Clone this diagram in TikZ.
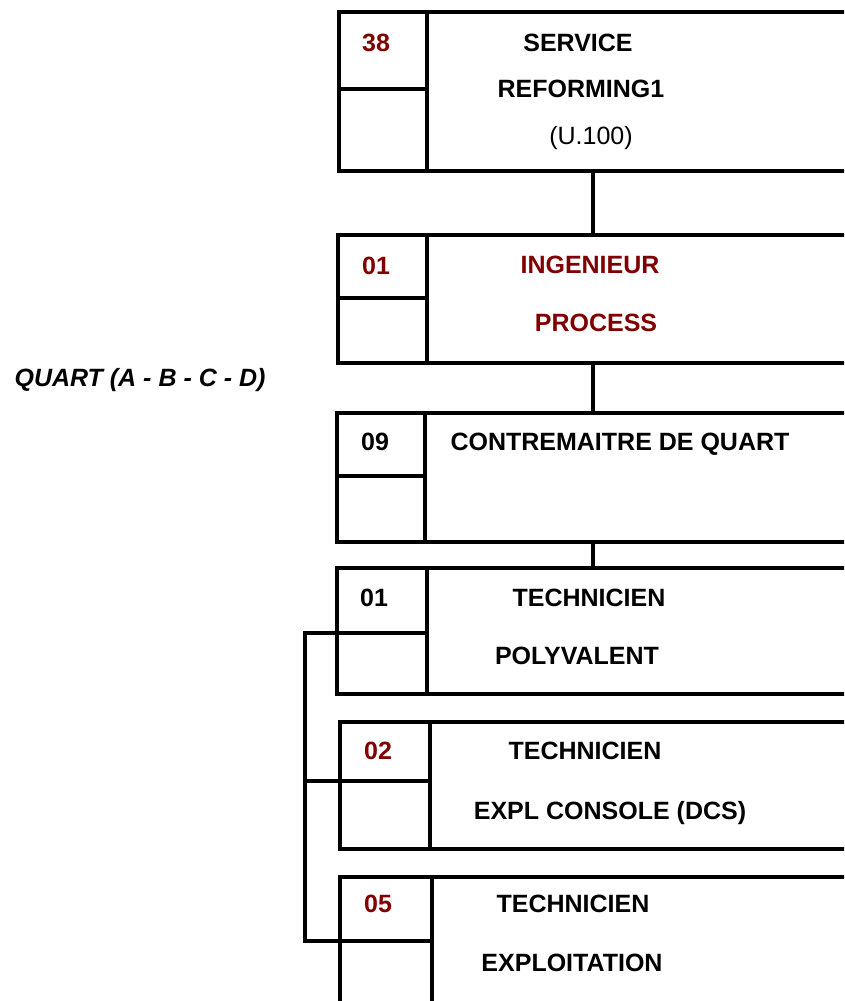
\documentclass[tikz,border=0pt]{standalone}
\usepackage{fontspec}
\setmainfont{Liberation Sans}
\usepackage{tikz}
\usetikzlibrary{positioning}

\definecolor{darkred}{RGB}{128,0,0}

\tikzset{
  cell/.style={draw, line width=4pt, rectangle, inner sep=0pt, outer sep=0pt,
    anchor=north west, minimum width=88pt},
  title/.style={cell, minimum width=460pt},
  lbl/.style={inner sep=0pt, text height=18pt, text depth=0pt,
    font=\fontsize{25}{28}\selectfont\bfseries},
  link/.style={line width=4pt}
}

\begin{document}
\begin{tikzpicture}[x=1pt,y=-1pt]
  \useasboundingbox (0,0) rectangle (844,1001);
  \clip (0,0) rectangle (844,1001);

  % service
  \node[cell, minimum height=77pt] (n1) at (339,12) {};
  \node[cell, minimum height=82pt, below=0pt of n1.south west, anchor=north west] (m1) {};
  \node[title, minimum height=159pt] (t1) at (n1.north east) {};
  \node[lbl, darkred] (c1) at (376,42) {38};
  \node[lbl] (s1) at (578,42) {SERVICE};
  \node[lbl] (s2) at (581,88) {REFORMING1};
  \node[lbl, font=\fontsize{25}{28}\selectfont] (s3) at (591,135) {(U.100)};

  % ingenieur
  \node[cell, minimum width=89pt, minimum height=63pt] (n2) at (338,235) {};
  \node[cell, minimum width=89pt, minimum height=65pt, below=0pt of n2.south west, anchor=north west] (m2) {};
  \node[title, minimum height=128pt] (t2) at (n2.north east) {};
  \node[lbl, darkred] (c2) at (376,265) {01};
  \node[lbl, darkred] (i1) at (590,264) {INGENIEUR};
  \node[lbl, darkred] (i2) at (596,322) {PROCESS};

  % contremaitre
  \node[cell, minimum width=88pt, minimum height=63pt] (n3) at (337,413) {};
  \node[cell, minimum width=88pt, minimum height=66pt, below=0pt of n3.south west, anchor=north west] (m3) {};
  \node[title, minimum height=129pt] (t3) at (n3.north east) {};
  \node[lbl] (c3) at (375,441) {09};
  \node[lbl] (q1) at (620,441) {CONTREMAITRE DE QUART};

  % technicien polyvalent
  \node[cell, minimum width=90pt, minimum height=65pt] (n4) at (337,568) {};
  \node[cell, minimum width=90pt, minimum height=61pt, below=0pt of n4.south west, anchor=north west] (m4) {};
  \node[title, minimum height=126pt] (t4) at (n4.north east) {};
  \node[lbl] (c4) at (374,597) {01};
  \node[lbl] (p1) at (589,597) {TECHNICIEN};
  \node[lbl] (p2) at (577,655) {POLYVALENT};

  % technicien console
  \node[cell, minimum width=90pt, minimum height=59pt] (n5) at (340,722) {};
  \node[cell, minimum width=90pt, minimum height=68pt, below=0pt of n5.south west, anchor=north west] (m5) {};
  \node[title, minimum height=127pt] (t5) at (n5.north east) {};
  \node[lbl, darkred] (c5) at (378,750) {02};
  \node[lbl] (d1) at (585,750) {TECHNICIEN};
  \node[lbl] (d2) at (610,810) {EXPL CONSOLE (DCS)};

  % technicien exploitation
  \node[cell, minimum width=92pt, minimum height=64pt] (n6) at (340,877) {};
  \node[cell, minimum width=92pt, minimum height=80pt, below=0pt of n6.south west, anchor=north west] (m6) {};
  \node[title, minimum height=144pt] (t6) at (n6.north east) {};
  \node[lbl, darkred] (c6) at (378,903) {05};
  \node[lbl] (e1) at (573,903) {TECHNICIEN};
  \node[lbl] (e2) at (572,962) {EXPLOITATION};

  \node[lbl, font=\fontsize{25}{28}\selectfont\bfseries\itshape] (qa) at (140,377) {QUART (A - B - C - D)};

  % links
  \coordinate (spine) at (593,0);
  \draw[link] (t1.south -| spine) -- (t2.north -| spine);
  \draw[link] (t2.south -| spine) -- (t3.north -| spine);
  \draw[link] (t3.south -| spine) -- (t4.north -| spine);

  % shift bracket
  \coordinate (brk) at (305,0);
  \draw[link] (m4.north west) -- (brk |- m4.north west) -- (brk |- m6.north west) -- (m6.north west);
  \draw[link] (m5.north west) -- (brk |- m5.north west);
\end{tikzpicture}
\end{document}
